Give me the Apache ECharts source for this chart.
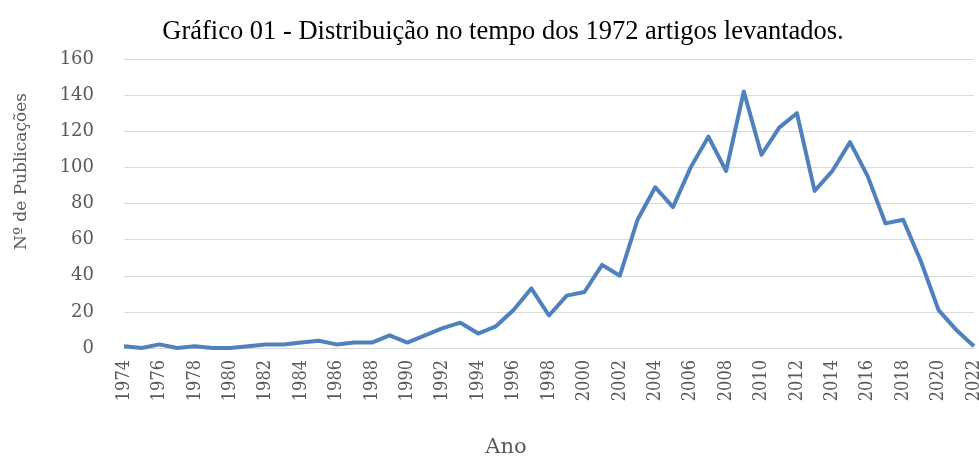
<!DOCTYPE html>
<html>
<head>
<meta charset="utf-8">
<script src="https://cdn.jsdelivr.net/npm/echarts@6/dist/echarts.min.js"></script>
<style>
  html, body { margin: 0; padding: 0; background: #fff; }
  #chart { width: 979px; height: 457px; }
</style>
</head>
<body>
<div id="chart"></div>
<script>
// Anos e número de publicações
const anos = [];
for (let a = 1974; a <= 2022; a++) anos.push(String(a));

const publicacoes = [
  1, 0, 2, 0, 1, 0, 0, 1, 2, 2, 3, 4, 2, 3, 3,
  7, 3, 7, 11, 14, 8, 12,
  21, 33, 18, 29, 31, 46, 40,
  71, 89, 78, 100, 117, 98, 142,
  107, 122, 130, 87, 98, 114, 95,
  69, 71, 48, 21, 10, 1
];

const titulo = "Gráfico 01 - Distribuição no tempo dos 1972 artigos levantados.";
const tituloY = "Nº de Publicações";
const tituloX = "Ano";

const chart = echarts.init(document.getElementById("chart"));

const option = {
  animation: false,
  title: {
    text: titulo,
    left: 498,
    textAlign: "center",
    top: 14,
    textStyle: {
      fontFamily: "Liberation Serif",
      fontWeight: "normal",
      fontSize: 26.5,
      color: "#000"
    }
  },
  grid: { left: 124, right: 5, top: 59, bottom: 109, outerBoundsMode: "none", containLabel: false },
  xAxis: {
    type: "category",
    data: anos,
    boundaryGap: false,
    name: tituloX,
    nameLocation: "middle",
    nameGap: 89,
    nameTextStyle: { fontFamily: "DejaVu Serif", fontSize: 21, color: "#595959", padding: [0, 86, 0, 0] },
    axisLine: { lineStyle: { color: "#d9d9d9", width: 1 } },
    axisTick: { show: false },
    axisLabel: {
      interval: 1,
      rotate: 90,
      margin: 12,
      fontFamily: "DejaVu Serif Condensed",
      fontSize: 18,
      color: "#595959"
    }
  },
  yAxis: {
    type: "value",
    min: 0,
    max: 160,
    interval: 20,
    name: tituloY,
    nameLocation: "middle",
    nameGap: 94,
    nameTextStyle: { fontFamily: "DejaVu Serif", fontSize: 17, color: "#595959", padding: [0, 0, 0, 64] },
    axisLine: { show: false },
    axisTick: { show: false },
    axisLabel: {
      margin: 30,
      fontFamily: "DejaVu Serif",
      fontSize: 18,
      color: "#595959"
    },
    splitLine: { lineStyle: { color: "#d9d9d9", width: 1 } }
  },
  series: [{
    type: "line",
    data: publicacoes,
    symbol: "none",
    lineStyle: { color: "#4f81bd", width: 4, join: "round" }
  }]
};

chart.setOption(option);
</script>
</body>
</html>
